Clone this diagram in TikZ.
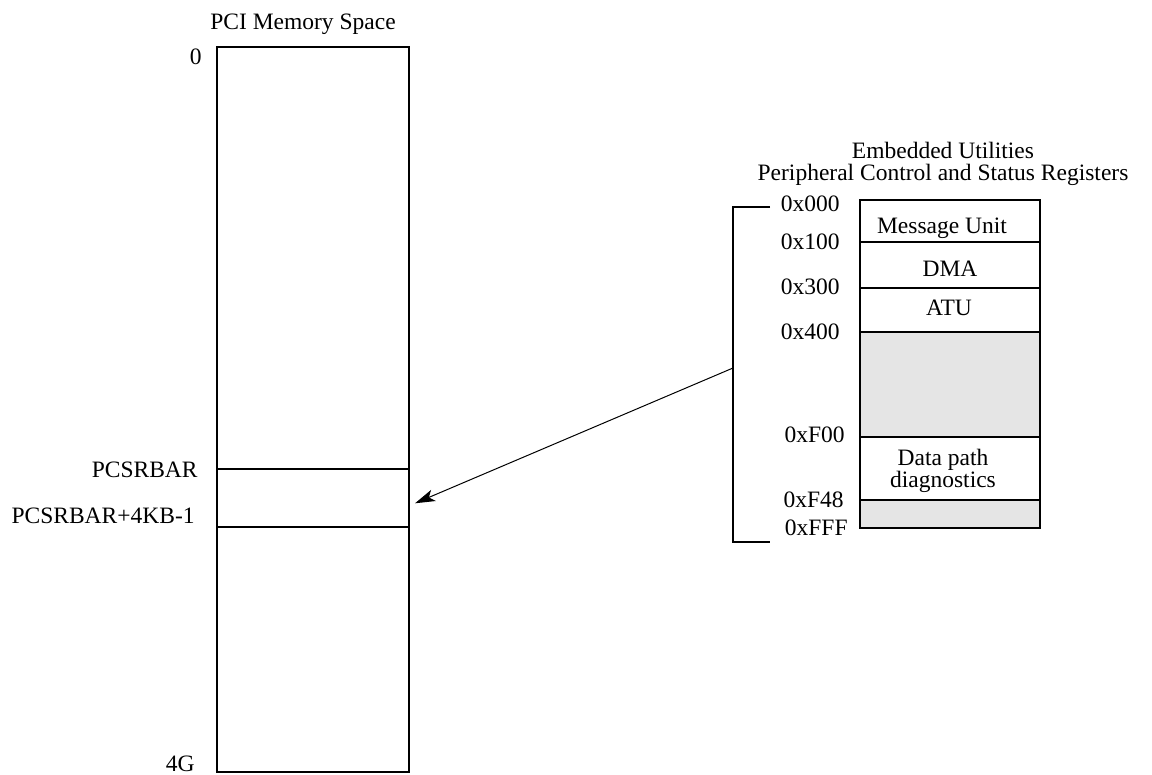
\documentclass[tikz,border=0pt]{standalone}
\usepackage{fontspec}
\setmainfont{Liberation Serif}
\usetikzlibrary{arrows.meta,fit}
\definecolor{resv}{gray}{0.9}
\begin{document}
\begin{tikzpicture}[x=0.5pt,y=-0.5pt,
  seg/.style={draw, line width=1pt, inner sep=0pt, outer sep=0pt},
  lbl/.style={inner sep=0pt, font=\fontsize{11.75}{11}\selectfont},
  addr/.style={lbl, anchor=base east},
  link/.style={line width=0.5pt, -{Stealth[length=10pt,width=6pt,inset=2.5pt]}}]
\useasboundingbox (0,0) rectangle (1152,775);

% PCI memory space
\node[lbl, anchor=base] (pcititle) at (303,30) {PCI Memory Space};
\node[seg, fit={(217,47)(409,772)}] (pci) {};
\node[seg, fit={(217,469)(409,527)}] (csr) {};
\node[addr] (l0) at (202,65) {0};
\node[addr] (lbar) at (198,477) {PCSRBAR};
\node[addr] (lend) at (195,523) {PCSRBAR+4KB-1};
\node[addr] (l4g) at (195,771.5) {4G};

% Peripheral control and status registers
\node[lbl, align=center, anchor=north] (pcsrtitle) at (943,141.5)
  {Embedded Utilities\\Peripheral Control and Status Registers};
\node[seg, fit={(860,200)(1040,241.7)}] (mu) {};
\node[seg, fit={(860,241.7)(1040,287.7)}] (dma) {};
\node[seg, fit={(860,287.7)(1040,331.7)}] (atu) {};
\node[seg, fill=resv, fit={(860,331.7)(1040,436.7)}] (rsvA) {};
\node[seg, fit={(860,436.7)(1040,500)}] (dpd) {};
\node[seg, fill=resv, fit={(860,500)(1040,528.3)}] (rsvB) {};
\node[lbl, anchor=base] (tmu) at (942,234) {Message Unit};
\node[lbl, anchor=base] (tdma) at (950,277) {DMA};
\node[lbl, anchor=base] (tatu) at (949,316) {ATU};
\node[lbl, align=center, anchor=north] (tdpd) at (943,448.6) {Data path\\diagnostics};

\node[addr] (a000) at (840,212) {0x000};
\node[addr] (a100) at (840,250) {0x100};
\node[addr] (a300) at (840,295) {0x300};
\node[addr] (a400) at (840,340) {0x400};
\node[addr] (aF00) at (845,443) {0xF00};
\node[addr] (aF48) at (844,507) {0xF48};
\node[addr] (aFFF) at (848,535) {0xFFF};

% bracket spanning the register block, and the mapping arrow
\coordinate (bTop) at (770,207.3);
\coordinate (bBot) at (770,541.7);
\draw[line width=1pt] (bTop) -- ++(-37,0) |- (bBot);
\coordinate (bMid) at (733,368);
\coordinate (tgt) at (415,503.3);
\draw[link] (bMid) -- (tgt);
\end{tikzpicture}
\end{document}
